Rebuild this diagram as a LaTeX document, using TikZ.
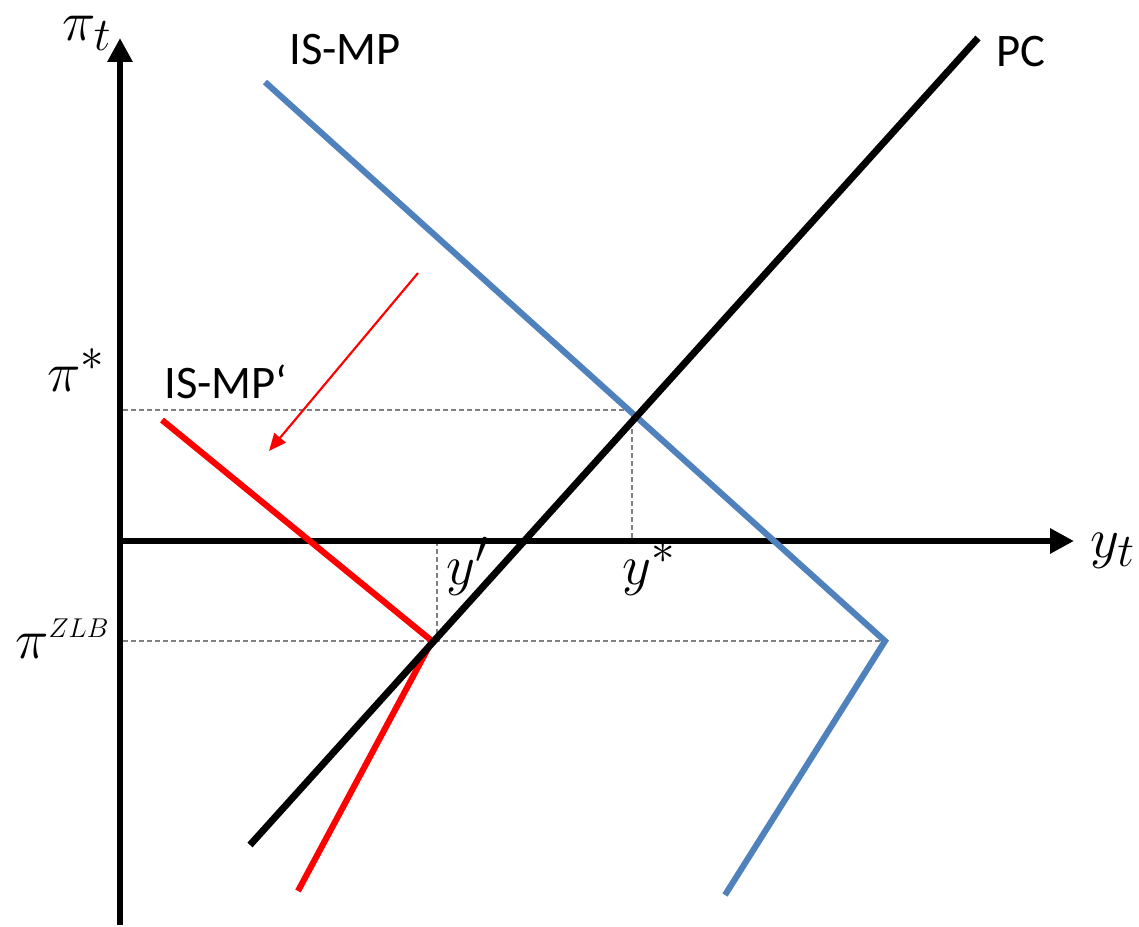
\documentclass[tikz,border=0pt]{standalone}
\usepackage{fontspec}
\setsansfont{Carlito}
\usetikzlibrary{arrows.meta}
\definecolor{isblue}{RGB}{79,129,189}
\definecolor{isred}{RGB}{255,0,0}
\tikzset{
  axis/.style={line width=5.2pt,-{Triangle[length=18pt,width=18pt]}},
  curveblack/.style={line width=5.2pt,black},
  curveblue/.style={line width=4.6pt,isblue},
  curvered/.style={line width=4.6pt,isred},
  guide/.style={gray,line width=0.9pt,dash pattern=on 3.5pt off 2.5pt},
  shift arrow/.style={isred,line width=1.6pt,-{Triangle[length=13pt,width=11pt]}},
  lbl/.style={font=\sffamily\fontsize{35}{40}\selectfont,inner sep=0pt},
  mlbl/.style={font=\fontsize{24.88}{30}\selectfont,inner sep=0pt,scale=1.7}
}
\begin{document}
\begin{tikzpicture}[x=0.75pt,y=-0.75pt]
\useasboundingbox (0,0) rectangle (1139,927);
% coordinates
\coordinate (O) at (120,541);
\coordinate (ybot) at (120,925);
\coordinate (ytop) at (120,38);
\coordinate (xend) at (1074,541);
\coordinate (pc1) at (250,845);
\coordinate (pc2) at (978,38);
\coordinate (is1) at (265,82);
\coordinate (is2) at (885,641);
\coordinate (is3) at (725,895);
\coordinate (rd1) at (162,420);
\coordinate (rd2) at (432,641);
\coordinate (rd3) at (298,891);
\coordinate (ar1) at (418,273);
\coordinate (ar2) at (269,451);
\coordinate (Estar) at (632,410);
\coordinate (Estarx) at (632,541);
\coordinate (pistarL) at (123,410);
\coordinate (Ezlb) at (437,641);
\coordinate (Ezlbx) at (437,541);
\coordinate (pizlbL) at (123,641);
% guides
\draw[guide] (pistarL) -- (Estar) -- (Estarx);
\draw[guide] (pizlbL) -- (is2);
\draw[guide] (Ezlbx) -- (Ezlb);
% axes
\draw[axis] (ybot) -- (ytop);
\draw[axis] (O) -- (xend);
% curves
\draw[curveblue,line join=miter] (is1) -- (is2) -- (is3);
\draw[curvered,line join=miter] (rd1) -- (rd2) -- (rd3);
\draw[curveblack] (pc1) -- (pc2);
\draw[shift arrow] (ar1) -- (ar2);
% labels
\node[mlbl,anchor=base west] (pit) at (62,41) {$\pi_t$};
\node[mlbl,anchor=base west] (yt) at (1090,557) {$y_t$};
\node[mlbl,anchor=base east] (pistar) at (106,391) {$\pi^*$};
\node[mlbl,anchor=base east] (pizlb) at (110,658) {$\pi^{\hbox{\fontsize{12}{14}\selectfont$ZLB$}}$};
\node[mlbl,anchor=base west] (yprime) at (446,584) {$y'$};
\node[mlbl,anchor=base west] (ystar) at (622,584) {$y^*$};
\node[lbl] (ismp) at (345,50) {IS-MP};
\node[lbl] (ismpp) at (226,382) {IS-MP‘};
\node[lbl] (pc) at (1021,52) {PC};
\end{tikzpicture}
\end{document}
